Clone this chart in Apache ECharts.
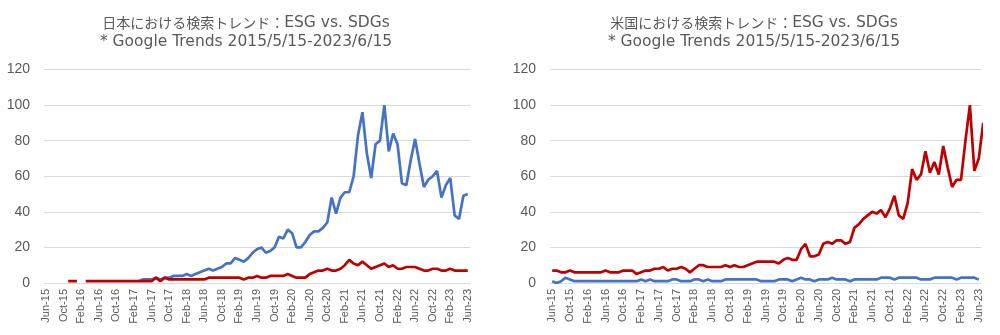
<!DOCTYPE html>
<html><head><meta charset="utf-8">
<script src="https://cdn.jsdelivr.net/npm/echarts@6/dist/echarts.min.js"></script>
<style>html,body{margin:0;padding:0;background:#fff}#c{width:1000px;height:335px}</style>
</head><body><div id="c"></div>
<script>
const categories = [
'Jun-15','Jul-15','Aug-15','Sep-15','Oct-15','Nov-15','Dec-15','Jan-16','Feb-16','Mar-16','Apr-16','May-16',
'Jun-16','Jul-16','Aug-16','Sep-16','Oct-16','Nov-16','Dec-16','Jan-17','Feb-17','Mar-17','Apr-17','May-17',
'Jun-17','Jul-17','Aug-17','Sep-17','Oct-17','Nov-17','Dec-17','Jan-18','Feb-18','Mar-18','Apr-18','May-18',
'Jun-18','Jul-18','Aug-18','Sep-18','Oct-18','Nov-18','Dec-18','Jan-19','Feb-19','Mar-19','Apr-19','May-19',
'Jun-19','Jul-19','Aug-19','Sep-19','Oct-19','Nov-19','Dec-19','Jan-20','Feb-20','Mar-20','Apr-20','May-20',
'Jun-20','Jul-20','Aug-20','Sep-20','Oct-20','Nov-20','Dec-20','Jan-21','Feb-21','Mar-21','Apr-21','May-21',
'Jun-21','Jul-21','Aug-21','Sep-21','Oct-21','Nov-21','Dec-21','Jan-22','Feb-22','Mar-22','Apr-22','May-22',
'Jun-22','Jul-22','Aug-22','Sep-22','Oct-22','Nov-22','Dec-22','Jan-23','Feb-23','Mar-23','Apr-23','May-23',
'Jun-23'];
const yTicks = [0, 20, 40, 60, 80, 100, 120];
const titleJPLabel = '日本における検索トレンド：';
const titleUSLabel = '米国における検索トレンド：';
const titleTopic = 'ESG vs. SDGs';
const subtitle = '* Google Trends 2015/5/15-2023/6/15';

// Japan
const jpSDGs = [
null,null,null,null,null,null,null,null,null,null,null,null,
null,null,null,null,null,null,null,null,null,1,2,2,
2,3,2,3,3,4,4,4,5,4,5,6,
7,8,7,8,9,11,11,14,13,12,14,17,
19,20,17,18,20,26,25,30,28,20,20,23,
27,29,29,31,34,48,39,48,51,51,60,83,
96,73,59,78,80,100,74,84,78,56,55,69,
81,67,54,58,60,63,48,55,59,38,36,49,
50];
const jpESG = [
null,null,null,null,null,1,1,1,null,1,1,1,
1,1,1,1,1,1,1,1,1,1,1,1,
1,3,1,3,2,2,2,2,2,2,2,2,
2,3,3,3,3,3,3,3,3,2,3,3,
4,3,3,4,4,4,4,5,4,3,3,3,
5,6,7,7,8,7,7,8,10,13,11,10,
12,10,8,9,10,11,9,10,8,8,9,9,
9,8,7,7,8,8,7,7,8,7,7,7,
7];

// USA
const usSDGs = [
1,0,1,3,2,1,1,1,1,1,1,1,
1,1,1,1,1,1,1,1,2,1,2,1,
1,1,1,2,2,1,1,1,2,2,1,2,
1,1,1,2,2,2,2,2,2,2,2,1,
1,1,1,2,2,2,1,2,3,2,2,1,
2,2,2,3,2,2,2,1,2,2,2,2,
2,2,3,3,3,2,3,3,3,3,3,2,
2,2,3,3,3,3,3,2,3,3,3,3,
2];
const usESG = [
7,7,6,6,7,6,6,6,6,6,6,6,
7,6,6,6,7,7,7,5,6,7,7,8,
8,9,7,8,8,9,8,6,8,10,10,9,
9,9,9,10,9,10,9,9,10,11,12,12,
12,12,12,11,13,14,13,13,19,22,15,15,
16,22,23,22,24,24,22,23,31,33,36,38,
40,39,41,37,42,49,38,36,45,64,58,61,
74,62,68,61,77,65,54,58,58,80,100,63,
70,90];

const BLUE = '#4472C4', RED = '#C00000', TXT = '#595959', GRID = '#D9D9D9';
const FONT = '"Liberation Sans","Noto Sans CJK JP",sans-serif';
const TFONT = '"DejaVu Sans","Noto Sans CJK JP",sans-serif';

function xAxis(gi){
  return {type:'category', gridIndex:gi, data:categories, boundaryGap:true,
    axisLine:{show:true, lineStyle:{color:GRID, width:1}},
    axisTick:{show:false},
    axisLabel:{interval:3, rotate:90, color:TXT, fontSize:11, fontFamily:FONT, margin:6},
    splitLine:{show:false}};
}
function yAxis(gi){
  return {type:'value', gridIndex:gi, min:yTicks[0], max:yTicks[yTicks.length-1], interval:20,
    axisLine:{show:false}, axisTick:{show:false},
    axisLabel:{color:TXT, fontSize:14, fontFamily:FONT, margin:14},
    splitLine:{show:true, lineStyle:{color:GRID, width:1}}};
}
function line(name, data, color, gi){
  return {name, type:'line', xAxisIndex:gi, yAxisIndex:gi, data, symbol:'none',
    connectNulls:false, smooth:false, lineStyle:{color, width:2.7}, itemStyle:{color},
    animation:false};
}
const rich = {
  jp:{fontSize:14, fontFamily:'"Noto Sans CJK JP",sans-serif', color:TXT, lineHeight:19},
  en:{fontSize:15.5, fontFamily:TFONT, color:TXT, lineHeight:19}
};
function title(label, cx){
  return {text:'{jp|' + label + '}{en|' + titleTopic + '}\n{en|' + subtitle + '}',
    left:cx, top:8, textAlign:'center',
    textStyle:{color:TXT, fontSize:15.5, fontWeight:'normal', fontFamily:TFONT, lineHeight:19, rich}};
}

const chart = echarts.init(document.getElementById('c'), null, {renderer:'canvas'});
chart.setOption({
  animation:false,
  title:[title(titleJPLabel, 241), title(titleUSLabel, 749)],
  grid:[
    {left:44, top:69.5, width:426, height:213.5},
    {left:550, top:69.5, width:431, height:213.5}
  ],
  xAxis:[xAxis(0), xAxis(1)],
  yAxis:[yAxis(0), yAxis(1)],
  series:[
    line('SDGs', jpSDGs, BLUE, 0),
    line('ESG', jpESG, RED, 0),
    line('SDGs', usSDGs, BLUE, 1),
    line('ESG', usESG, RED, 1)
  ]
});
</script></body></html>
